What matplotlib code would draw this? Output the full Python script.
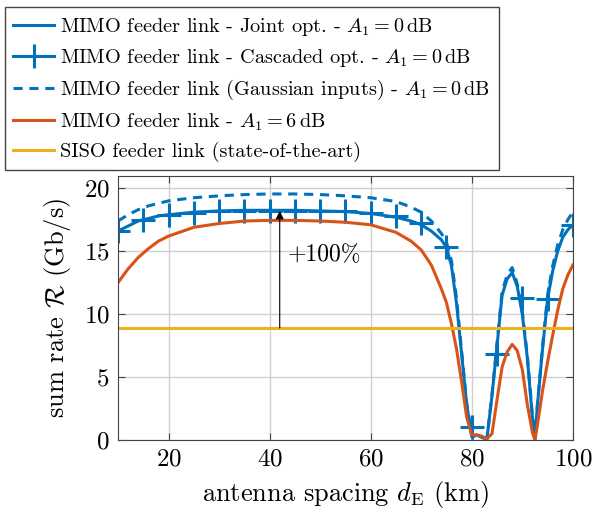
import matplotlib.pyplot as plt
from matplotlib.lines import Line2D

# antenna spacing grid (km) of the curves
d_e = [10, 12, 14, 16, 18, 20, 25, 30, 35, 40, 45, 50, 55, 60, 65, 68, 70, 72, 74,
       75, 76, 77, 78, 79, 80, 81, 82, 83, 84, 85, 86, 87, 88, 89, 90, 91, 92, 92.5,
       93, 94, 95, 96, 97, 98, 99, 100]

joint = [16.6, 17.0, 17.4, 17.6, 17.8, 17.9, 18.1, 18.2, 18.25, 18.25, 18.25, 18.2, 18.15,
         18.0, 17.7, 17.4, 17.1, 16.6, 15.9, 15.3, 13.8, 10.8, 6.8, 2.8, 0.3, 0.4, 0.2,
         0.1, 3.5, 7.5, 11.5, 12.8, 13.3, 12.2, 10.0, 6.5, 1.8, 0.1, 2.8, 7.2, 11.2, 13.4,
         15.0, 16.1, 16.7, 17.1]

gauss = [17.4, 17.9, 18.3, 18.6, 18.8, 19.0, 19.25, 19.4, 19.5, 19.55, 19.55, 19.5, 19.4,
         19.25, 18.95, 18.5, 18.1, 17.4, 16.4, 15.7, 14.2, 11.2, 7.0, 2.9, 0.3, 0.3, 0.2,
         0.1, 3.6, 7.7, 11.8, 13.1, 13.7, 12.4, 10.2, 6.7, 1.9, 0.1, 2.9, 7.4, 11.5, 13.8,
         15.5, 16.7, 17.5, 18.1]

a6db = [12.5, 13.6, 14.5, 15.2, 15.8, 16.2, 16.9, 17.2, 17.4, 17.45, 17.45, 17.4, 17.3,
        17.1, 16.5, 15.8, 15.1, 13.9, 12.0, 10.9, 9.2, 7.2, 4.6, 1.8, 0.4, 0.4, 0.3, 0.1,
        0.5, 3.2, 5.8, 7.0, 7.6, 7.1, 5.6, 2.8, 0.6, 0.0, 1.2, 3.9, 6.2, 8.3, 10.3, 12.0,
        13.1, 13.9]

# cascaded optimisation, every 5 km
d_casc = [10, 15, 20, 25, 30, 35, 40, 45, 50, 55, 60, 65, 70, 75, 80, 85, 90, 95, 100]
casc = [16.6, 17.5, 17.9, 18.0, 18.2, 18.2, 18.2, 18.2, 18.2, 18.2, 18.0, 17.8, 17.25,
        15.3, 1.0, 6.85, 11.3, 11.2, 17.1]

d_siso = [10, 100]
siso = [8.9, 8.9]

blue = '#0072BD'
orange = '#D95319'
yellow = '#EDB120'

plt.rcParams['font.family'] = 'serif'
plt.rcParams['font.serif'] = ['cmr10', 'DejaVu Serif']
plt.rcParams['mathtext.fontset'] = 'cm'
plt.rcParams['axes.formatter.use_mathtext'] = True
plt.rcParams['font.size'] = 16

fig = plt.figure(figsize=(5.93, 5.13), dpi=100)
ax = fig.add_axes([0.199, 0.1423, 0.767, 0.5152])

lw = 2.2
ax.plot(d_e, joint, color=blue, lw=lw)
ax.plot(d_casc, casc, color=blue, ls='none', marker='+', ms=17, mew=2.2)
ax.plot(d_e, gauss, color=blue, lw=lw, ls=(0, (3, 2.2)))
ax.plot(d_e, a6db, color=orange, lw=lw)
ax.plot(d_siso, siso, color=yellow, lw=lw)

ax.annotate('', xy=(42, 18.2), xytext=(42, 8.9),
            arrowprops=dict(arrowstyle='-|>', color='black', lw=0.8,
                            mutation_scale=12, shrinkA=0, shrinkB=0))
ax.text(43.5, 14.7, r'+100%', fontsize=17, va='center', ha='left')

ax.set_xlim(10, 100)
ax.set_ylim(0, 21)
ax.set_xticks([20, 40, 60, 80, 100])
ax.set_yticks([0, 5, 10, 15, 20])
ax.tick_params(direction='in', top=True, right=True, length=5, labelsize=18,
               color='#444444', pad=6)
ax.grid(color='#d0d0d0', lw=1)
ax.set_axisbelow(True)
for s in ax.spines.values():
    s.set_color('#444444')

ax.set_xlabel(r'antenna spacing $d_\mathrm{E}$ (km)', fontsize=19, labelpad=6)
ax.set_ylabel(r'sum rate $\mathcal{R}$ (Gb/s)', fontsize=19, labelpad=8)

handles = [
    Line2D([], [], color=blue, lw=lw),
    Line2D([], [], color=blue, lw=lw, marker='+', ms=17, mew=2.2),
    Line2D([], [], color=blue, lw=lw, ls=(0, (3, 2.2))),
    Line2D([], [], color=orange, lw=lw),
    Line2D([], [], color=yellow, lw=lw),
]
labels = [
    r'MIMO feeder link - Joint opt. - $A_1 = 0\,\mathrm{dB}$',
    r'MIMO feeder link - Cascaded opt. - $A_1 = 0\,\mathrm{dB}$',
    r'MIMO feeder link (Gaussian inputs) - $A_1 = 0\,\mathrm{dB}$',
    r'MIMO feeder link - $A_1 = 6\,\mathrm{dB}$',
    r'SISO feeder link (state-of-the-art)',
]
leg = fig.legend(handles, labels, loc='upper left', bbox_to_anchor=(0.0084, 0.986),
                 fancybox=False, edgecolor='#444444', framealpha=1, fontsize=14.6,
                 handlelength=2.0, handletextpad=0.3, labelspacing=0.45, borderpad=0.42,
                 borderaxespad=0)
leg.get_frame().set_linewidth(1.0)

plt.savefig('out.png', dpi=100)
